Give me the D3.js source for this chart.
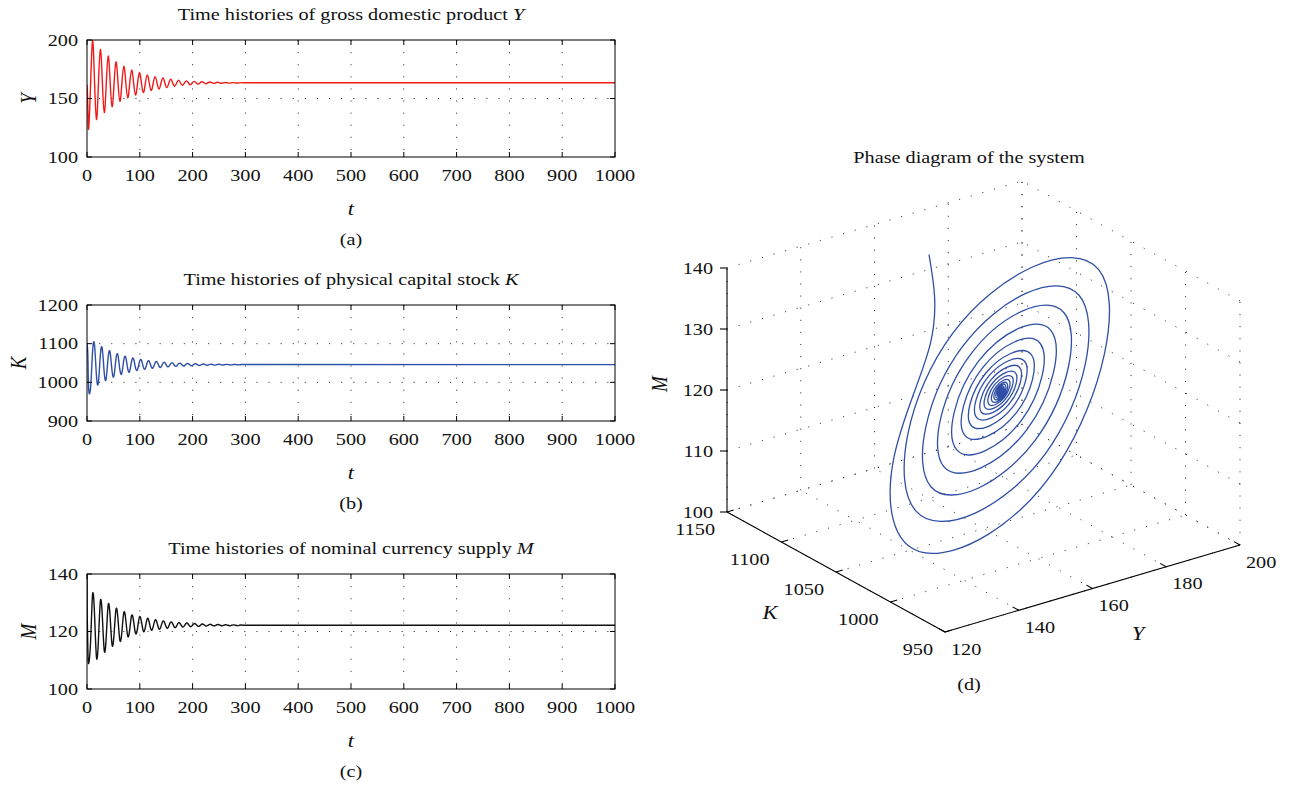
<!DOCTYPE html>
<html>
<head>
<meta charset="utf-8">
<script src="https://cdn.jsdelivr.net/npm/d3@7"></script>
<style>
  body { margin: 0; background: #fff; }
  text { font-family: "Liberation Serif", "Times New Roman", serif; fill: #111; }
  .it { font-style: italic; }
</style>
</head>
<body>
<svg id="fig" width="1293" height="788"></svg>
<script>
// ---- simulated trajectory (sampled times and state values) ----
const tSamples = [0, 0.35, 1.7,
  3.1, 6.8, 10.5, 14.2, 17.9, 21.6, 25.3, 29.0, 32.7, 36.4,
  40.1, 43.8, 47.5, 51.2, 54.9, 58.6, 62.3, 66.0, 69.7, 73.4,
  77.1, 80.8, 84.5, 88.2, 91.9, 95.6, 99.3, 103.0, 106.7, 110.4,
  114.1, 117.8, 121.5, 125.2, 128.9, 132.6, 136.3, 140.0, 143.7, 147.4,
  151.1, 154.8, 158.5, 162.2, 165.9, 169.6, 173.3, 177.0, 180.7, 184.4,
  188.1, 191.8, 195.5, 199.2, 202.9, 206.6, 210.3, 214.0, 217.7, 221.4,
  225.1, 228.8, 232.5, 236.2, 239.9, 243.6, 247.3, 251.0, 254.7, 258.4,
  262.1, 265.8, 269.5, 273.2, 276.9, 280.6, 284.3, 288.0, 291.7, 295.4];

// gross domestic product Y
const gdpY = [160.0, 159.5, 140.0,
  124.3, 161.9, 199.4, 165.7, 132.0, 162.0, 192.0, 165.0, 138.0, 162.2,
  186.3, 164.6, 142.9, 162.2, 181.4, 164.5, 147.5, 162.5, 177.5, 164.1,
  150.6, 162.5, 174.3, 163.7, 153.0, 162.5, 172.0, 163.5, 155.0, 162.6,
  170.2, 163.5, 156.7, 162.7, 168.7, 163.4, 158.1, 162.8, 167.5, 163.4,
  159.3, 162.9, 166.5, 163.5, 160.4, 163.1, 165.7, 163.5, 161.2, 163.2,
  165.1, 163.5, 161.8, 163.2, 164.6, 163.5, 162.3, 163.3, 164.3, 163.5,
  162.6, 163.3, 164.1, 163.5, 162.9, 163.4, 163.9, 163.4, 163.0, 163.4,
  163.7, 163.4, 163.1, 163.4, 163.6, 163.4, 163.2, 163.4, 163.55, 163.4];

// physical capital stock K
const capitalK = [1100, 1097, 1065,
  984.0, 986.9, 1077.6, 1097.6, 1017.6, 999.9, 1070.6, 1086.1, 1023.8, 1009.9,
  1065.1, 1077.2, 1028.6, 1017.8, 1060.8, 1070.3, 1032.4, 1024.0, 1057.5, 1064.8,
  1035.3, 1028.8, 1054.9, 1060.7, 1037.6, 1032.5, 1052.9, 1057.4, 1039.4, 1035.4,
  1051.3, 1054.8, 1040.8, 1037.7, 1050.1, 1052.8, 1041.9, 1039.5, 1049.1, 1051.2,
  1042.7, 1040.9, 1048.4, 1050.0, 1043.4, 1041.9, 1047.8, 1049.1, 1043.9, 1042.8,
  1047.3, 1048.3, 1044.3, 1043.4, 1047.0, 1047.8, 1044.6, 1043.9, 1046.7, 1047.3,
  1044.9, 1044.3, 1046.5, 1046.9, 1045.1, 1044.6, 1046.3, 1046.7, 1045.2, 1044.9,
  1046.2, 1046.4, 1045.3, 1045.1, 1046.0, 1046.2, 1045.4, 1045.2, 1046.0, 1046.1];

// nominal currency supply M
const currencyM = [140.0, 125.8, 113.3,
  108.9, 116.6, 132.7, 126.3, 111.1, 116.85, 130.5, 125.4, 113.35, 118.05,
  129.2, 125.1, 115.3, 118.95, 127.65, 124.5, 116.9, 119.75, 126.55, 124.15,
  118.4, 120.5, 125.55, 123.7, 119.35, 121.0, 125.0, 123.55, 120.1, 121.35,
  124.45, 123.3, 120.55, 121.55, 123.95, 123.05, 120.9, 121.7, 123.6, 122.9,
  121.2, 121.8, 123.27, 122.73, 121.42, 121.88, 123.04, 122.6, 121.6, 121.95,
  122.9, 122.53, 121.7, 122.03, 122.75, 122.46, 121.8, 122.05, 122.6, 122.38,
  121.9, 122.09, 122.5, 122.3, 121.95, 122.1, 122.42, 122.29, 122.0, 122.11,
  122.36, 122.25, 122.02, 122.11, 122.3, 122.23, 122.05, 122.11, 122.26, 122.19];

// steady state held to the end of the run
const tFinal = 1000;
const gdpYFinal = 163.4, capitalKFinal = 1045.7, currencyMFinal = 122.15;

// tick values
const tTicks = [0, 100, 200, 300, 400, 500, 600, 700, 800, 900, 1000];
const gdpTicks = [100, 150, 200];
const capitalTicks = [900, 1000, 1100, 1200];
const currencyTicks = [100, 120, 140];
const phaseTicksY = [120, 140, 160, 180, 200];
const phaseTicksK = [950, 1000, 1050, 1100, 1150];
const phaseTicksM = [100, 110, 120, 130, 140];

const svg = d3.select('#fig');
const dotted = sel => sel.attr('stroke', '#333').attr('stroke-width', 1)
  .attr('stroke-dasharray', '1.1 11').attr('fill', 'none');

// text helper: the typeface is set slightly wide
const FS = 17, WIDE = 1.19;
function label(parent, px, py, str, opts = {}) {
  const t = parent.append('text')
    .attr('transform', `translate(${px},${py}) scale(${WIDE},1)` + (opts.rotate ? ` rotate(${opts.rotate})` : ''))
    .attr('text-anchor', opts.anchor || 'middle')
    .attr('font-size', opts.size || FS);
  if (opts.dy) t.attr('dy', opts.dy);
  if (opts.italic) t.attr('class', 'it');
  t.text(str);
  return t;
}

// ---------------- time histories ----------------
const X0 = 87, X1 = 615;
const x = d3.scaleLinear().domain([0, tFinal]).range([X0, X1]);

const panels = [
  { title: 'Time histories of gross domestic product ', sym: 'Y', values: gdpY, final: gdpYFinal,
    domain: [100, 200], ticks: gdpTicks, top: 40, bottom: 157, color: '#f01818', tag: '(a)', labelX: 28 },
  { title: 'Time histories of physical capital stock ', sym: 'K', values: capitalK, final: capitalKFinal,
    domain: [900, 1200], ticks: capitalTicks, top: 305, bottom: 421, color: '#2f4fa6', tag: '(b)', labelX: 18 },
  { title: 'Time histories of nominal currency supply ', sym: 'M', values: currencyM, final: currencyMFinal,
    domain: [100, 140], ticks: currencyTicks, top: 574, bottom: 689, color: '#111', tag: '(c)', labelX: 28 }
];

panels.forEach((p, idx) => {
  const y = d3.scaleLinear().domain(p.domain).range([p.bottom, p.top]);
  const g = svg.append('g');
  const cx = (X0 + X1) / 2;

  // grid
  g.selectAll('.vg').data(tTicks.slice(1, -1)).join('line')
    .attr('x1', d => x(d)).attr('x2', d => x(d)).attr('y1', p.top).attr('y2', p.bottom).call(dotted);
  g.selectAll('.hg').data(p.ticks.slice(1, -1)).join('line')
    .attr('x1', X0).attr('x2', X1).attr('y1', d => y(d)).attr('y2', d => y(d)).call(dotted);

  // series
  const clipId = 'clip' + idx;
  svg.append('clipPath').attr('id', clipId).append('rect')
    .attr('x', X0).attr('y', p.top - 1).attr('width', X1 - X0).attr('height', p.bottom - p.top + 2);
  const pts = tSamples.map((t, i) => [t, p.values[i]]);
  const line = d3.line().x(d => x(d[0])).y(d => y(d[1]));
  g.append('path').attr('clip-path', `url(#${clipId})`)
    .attr('d', line.curve(d3.curveNatural)(pts))
    .attr('fill', 'none').attr('stroke', p.color).attr('stroke-width', 1.4);
  g.append('path').attr('clip-path', `url(#${clipId})`)
    .attr('d', d3.line().x(d => x(d[0])).y(d => y(d[1]))([pts[pts.length - 1], [tFinal, p.final]]))
    .attr('fill', 'none').attr('stroke', p.color).attr('stroke-width', 1.4);

  // box
  g.append('rect').attr('x', X0).attr('y', p.top).attr('width', X1 - X0).attr('height', p.bottom - p.top)
    .attr('fill', 'none').attr('stroke', '#000').attr('stroke-width', 1);

  // ticks (inward, on both sides)
  const tl = 5;
  tTicks.forEach(t => {
    g.append('line').attr('x1', x(t)).attr('x2', x(t)).attr('y1', p.bottom).attr('y2', p.bottom - tl).attr('stroke', '#000');
    g.append('line').attr('x1', x(t)).attr('x2', x(t)).attr('y1', p.top).attr('y2', p.top + tl).attr('stroke', '#000');
  });
  p.ticks.forEach(v => {
    g.append('line').attr('x1', X0).attr('x2', X0 + tl).attr('y1', y(v)).attr('y2', y(v)).attr('stroke', '#000');
    g.append('line').attr('x1', X1).attr('x2', X1 - tl).attr('y1', y(v)).attr('y2', y(v)).attr('stroke', '#000');
  });

  // tick labels
  tTicks.forEach(t => label(g, x(t), p.bottom + 24, t));
  p.ticks.forEach(v => label(g, X0 - 9, y(v), v, { anchor: 'end', dy: '0.33em' }));

  // title
  const tt = label(g, cx, p.top - 20, p.title);
  tt.append('tspan').attr('class', 'it').text(p.sym);

  // axis labels
  label(g, cx, p.bottom + 58, 't', { italic: true, size: 19 });
  label(g, p.labelX, (p.top + p.bottom) / 2, p.sym, { italic: true, size: 19, rotate: -90, dy: '0.35em' });
  label(g, cx, p.bottom + 88, p.tag);
});

// ---------------- phase diagram ----------------
const origin = [945, 632];          // screen position of the front corner (Y=120, K=950, M=100)
const axY = [295, -87], axK = [-218, -120], axM = [0, -244];
const sY = d3.scaleLinear().domain([120, 200]).range([0, 1]);
const sK = d3.scaleLinear().domain([950, 1150]).range([0, 1]);
const sM = d3.scaleLinear().domain([100, 140]).range([0, 1]);
function proj(yv, kv, mv) {
  const a = sY(yv), b = sK(kv), c = sM(mv);
  return [origin[0] + a * axY[0] + b * axK[0] + c * axM[0],
          origin[1] + a * axY[1] + b * axK[1] + c * axM[1]];
}
const g3 = svg.append('g');
const seg = (p, q) => g3.append('line').attr('x1', p[0]).attr('y1', p[1]).attr('x2', q[0]).attr('y2', q[1]);

// grid on the floor and the two back walls
phaseTicksY.forEach(v => {
  seg(proj(v, 950, 100), proj(v, 1150, 100)).call(dotted);
  seg(proj(v, 1150, 100), proj(v, 1150, 140)).call(dotted);
});
phaseTicksK.forEach(v => {
  seg(proj(120, v, 100), proj(200, v, 100)).call(dotted);
  seg(proj(200, v, 100), proj(200, v, 140)).call(dotted);
});
phaseTicksM.forEach(v => {
  seg(proj(120, 1150, v), proj(200, 1150, v)).call(dotted);
  seg(proj(200, 950, v), proj(200, 1150, v)).call(dotted);
});

// trajectory
const traj = tSamples.map((t, i) => proj(gdpY[i], capitalK[i], currencyM[i]));
traj.push(proj(gdpYFinal, capitalKFinal, currencyMFinal));
g3.append('path').attr('d', d3.line().curve(d3.curveNatural)(traj))
  .attr('fill', 'none').attr('stroke', '#2f4fa6').attr('stroke-width', 1.3);

// axes
const axStyle = s => s.attr('stroke', '#000').attr('stroke-width', 1.1);
seg(proj(120, 1150, 100), proj(120, 1150, 140)).call(axStyle);
seg(proj(120, 1150, 100), proj(120, 950, 100)).call(axStyle);
seg(proj(120, 950, 100), proj(200, 950, 100)).call(axStyle);

const unit = v => { const l = Math.hypot(v[0], v[1]); return [v[0] / l, v[1] / l]; };
const uY = unit(axY), uK = unit(axK);
const TL = 7;
phaseTicksM.forEach(v => {
  const p = proj(120, 1150, v);
  seg(p, [p[0] - TL, p[1]]).call(axStyle);
  label(g3, p[0] - 14, p[1], v, { anchor: 'end', dy: '0.33em' });
});
phaseTicksK.forEach(v => {
  const p = proj(120, v, 100);
  seg(p, [p[0] + uY[0] * TL, p[1] + uY[1] * TL]).call(axStyle);
  label(g3, p[0] - 12, p[1] + 17, v, { anchor: 'end', dy: '0.33em' });
});
phaseTicksY.forEach(v => {
  const p = proj(v, 950, 100);
  seg(p, [p[0] + uK[0] * TL, p[1] + uK[1] * TL]).call(axStyle);
  label(g3, p[0] + 6, p[1] + 17, v, { anchor: 'start', dy: '0.33em' });
});

label(g3, 969, 163, 'Phase diagram of the system');
label(g3, 659, 384, 'M', { italic: true, size: 19, rotate: -90, dy: '0.35em' });
label(g3, 770, 612, 'K', { italic: true, size: 19, dy: '0.35em' });
label(g3, 1138, 633, 'Y', { italic: true, size: 19, dy: '0.35em' });
label(g3, 969, 690, '(d)');
</script>
</body>
</html>
